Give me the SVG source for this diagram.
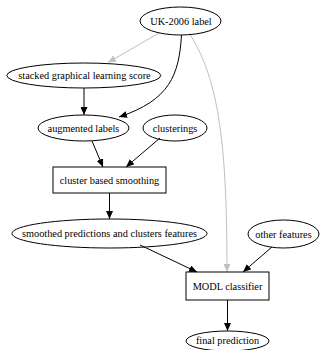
<svg xmlns="http://www.w3.org/2000/svg" width="320" height="350" viewBox="0 0 320 350">
<style>
.n ellipse, .n rect { fill: none; stroke: #000; stroke-width: 1; }
.n text { font-size: 10.3px; text-anchor: middle; fill: #000; }
.e path { fill: none; stroke: #000; stroke-width: 1; }
.e path.g { stroke: #c0c0c0; }
</style>
<defs>
<marker id="ab" markerUnits="userSpaceOnUse" markerWidth="8" markerHeight="7" refX="8" refY="3.5" orient="auto">
<path d="M0,0 L8,3.5 L0,7 z" fill="#000"/>
</marker>
<marker id="ag" markerUnits="userSpaceOnUse" markerWidth="8" markerHeight="7" refX="8" refY="3.5" orient="auto">
<path d="M0,0 L8,3.5 L0,7 z" fill="#c0c0c0"/>
</marker>
</defs>
<g id="edges" class="e">
<path class="g" d="M159,33 L108,62.5" marker-end="url(#ag)"/>
<path d="M181.5,35 C179,75 170,100 119,117" marker-end="url(#ab)"/>
<path class="g" d="M189,33 C220,80 227,150 227,272" marker-end="url(#ag)"/>
<path d="M84,88 L84,115" marker-end="url(#ab)"/>
<path d="M92,141 L103,167" marker-end="url(#ab)"/>
<path d="M160,138 L126,167" marker-end="url(#ab)"/>
<path d="M109.5,193 L109.5,219" marker-end="url(#ab)"/>
<path d="M140,245 L197,272" marker-end="url(#ab)"/>
<path d="M272,247 L243,272" marker-end="url(#ab)"/>
<path d="M227.5,300 L227.5,331" marker-end="url(#ab)"/>
</g>
<g font-family="'Liberation Serif', 'Times New Roman', serif">
<g id="uk2006" class="n"><ellipse cx="180.5" cy="21" rx="40.5" ry="14"/><text x="181" y="24.5">UK-2006 label</text></g>
<g id="stacked" class="n"><ellipse cx="83.8" cy="75.5" rx="77" ry="12.5"/><text x="84.5" y="79">stacked graphical learning score</text></g>
<g id="augmented" class="n"><ellipse cx="83.5" cy="128" rx="45.5" ry="13"/><text x="83.5" y="131.5">augmented labels</text></g>
<g id="clusterings" class="n"><ellipse cx="175" cy="128" rx="32" ry="13"/><text x="175" y="131.5">clusterings</text></g>
<g id="smoothing" class="n"><rect x="53" y="167" width="113" height="26"/><text x="109.5" y="183.5">cluster based smoothing</text></g>
<g id="smoothed" class="n"><ellipse cx="109.5" cy="233.5" rx="97.5" ry="14.5"/><text x="109.5" y="237">smoothed predictions and clusters features</text></g>
<g id="other" class="n"><ellipse cx="283.5" cy="234" rx="35.5" ry="14"/><text x="283.5" y="237.5">other features</text></g>
<g id="modl" class="n"><rect x="186" y="272" width="83" height="28"/><text x="227.5" y="289.5">MODL classifier</text></g>
<g id="final" class="n"><ellipse cx="227.5" cy="341" rx="41.5" ry="10"/><text x="227.5" y="344">final prediction</text></g>
</g>
</svg>
